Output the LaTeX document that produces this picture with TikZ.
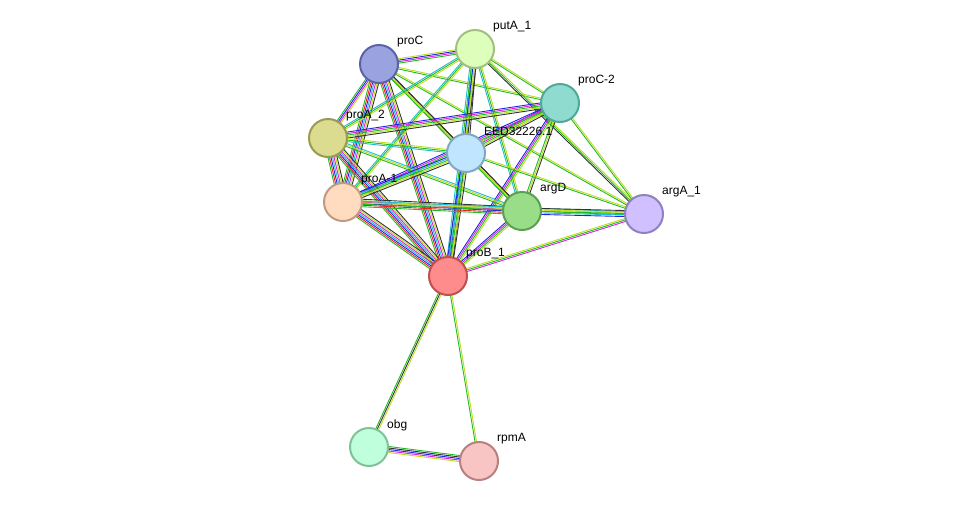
\documentclass[tikz,border=0pt]{standalone}
\usepackage{fontspec}
\setmainfont{Liberation Sans}
\usetikzlibrary{calc}
\definecolor{cG}{HTML}{22BB22}
\definecolor{cR}{HTML}{EE2222}
\definecolor{cB}{HTML}{2222EE}
\definecolor{cC}{HTML}{22BBCC}
\definecolor{cM}{HTML}{DD22DD}
\definecolor{cY}{HTML}{BBDD22}
\definecolor{cK}{HTML}{333333}
\newcommand\edg[3]{%
  \foreach \c [count=\i] in {#3} {\xdef\nn{\i}}%
  \foreach \c [count=\i] in {#3} {%
    \pgfmathsetmacro\off{(\i-(\nn+1)/2)*1.5}%
    \draw[\c, line width=0.9pt] ($(#1)!\off pt!90:(#2)$) -- ($(#2)!\off pt!-90:(#1)$);
  }%
}
\tikzset{prot/.style={circle, minimum size=38pt, inner sep=0pt, line width=2pt},
  lbl/.style={anchor=west, font=\fontsize{12}{12}\selectfont, inner sep=0pt}}
\begin{document}
\begin{tikzpicture}[x=1pt,y=-1pt]
\useasboundingbox (0,0) rectangle (976,507);
\fill[white] (0,0) rectangle (976,507);
\coordinate (proC) at (379,64);
\coordinate (putA) at (475,49);
\coordinate (proC2) at (560,103);
\coordinate (proA2) at (328,138);
\coordinate (EED) at (466,153);
\coordinate (proA1) at (343,202);
\coordinate (argD) at (522,211);
\coordinate (argA) at (644,214);
\coordinate (proB) at (448,276);
\coordinate (obg) at (369,447);
\coordinate (rpmA) at (479,461);
\def\full{cG,cR,cB,cC,cM,cY,cK}
\edg{proC}{putA}{cG,cM,cB,cY}
\edg{proC}{proC2}{cG,cY}
\edg{proC}{proA2}{cG,cB,cM,cY}
\edg{proC}{EED}{cG,cY,cK}
\edg{proC}{proA1}{cG,cR,cB,cC,cM,cY,cK}
\edg{proC}{argD}{cG,cY,cK}
\edg{proC}{proB}{cG,cR,cB,cC,cM,cY,cK}
\edg{proC}{argA}{cG,cY}
\edg{putA}{proC2}{cG,cY}
\edg{putA}{proA2}{cC,cG,cY}
\edg{putA}{EED}{cC,cG,cY,cK}
\edg{putA}{proA1}{cC,cG,cY}
\edg{putA}{argD}{cC,cG,cY}
\edg{putA}{proB}{cC,cG,cB,cY,cK}
\edg{putA}{argA}{cK,cG,cY}
\edg{proC2}{proA2}{cB,cM,cG,cY,cK}
\edg{proC2}{EED}{cB,cM,cG,cY,cK}
\edg{proC2}{proA1}{cB,cM,cG,cY}
\edg{proC2}{argD}{cG,cY,cK}
\edg{proC2}{proB}{cB,cM,cG,cY}
\edg{proC2}{argA}{cG,cY}
\edg{proA2}{EED}{cC,cG,cY}
\edg{proA2}{proA1}{cG,cR,cB,cC,cM,cY,cK}
\edg{proA2}{argD}{cG,cY,cC}
\edg{proA2}{proB}{cG,cR,cB,cC,cM,cY,cK}
\edg{EED}{proA1}{cB,cC,cG,cY,cK}
\edg{EED}{argD}{cG,cY,cK}
\edg{EED}{proB}{cB,cC,cG,cY,cK}
\edg{EED}{argA}{cG,cY}
\edg{proA1}{argD}{cG,cR,cB,cM,cY,cK}
\edg{proA1}{proB}{cG,cR,cB,cC,cM,cY,cK}
\edg{proA1}{argA}{cG,cY,cC}
\edg{argD}{argA}{cB,cC,cG,cY,cK}
\edg{argD}{proB}{cB,cM,cG,cY}
\edg{proB}{argA}{cM,cG,cY}
\edg{proB}{obg}{cG,cK,cY}
\edg{proB}{rpmA}{cG,cY}
\edg{obg}{rpmA}{cY,cM,cB,cK,cG}
\foreach \n/\f/\d/\t in {proC/9AA3E0/5A63A8/proC, putA/DDFFBB/A0C080/putA\_1,
  proC2/8FDBD0/4FA89A/proC-2, proA2/DCDC90/9A9A50/proA\_2, EED/C0E6FF/80A8C0/EED32226.1,
  proA1/FFDCC0/C09A80/proA-1, argD/99DD88/5AA050/argD, argA/D0C0FF/9080C0/argA\_1,
  proB/FF8C8C/C05050/proB\_1, obg/C0FFDC/80C09A/obg, rpmA/F8C4C4/B88080/rpmA} {
  \definecolor{fc}{HTML}{\f}\definecolor{dc}{HTML}{\d}
  \node[prot, fill=fc, draw=dc] (\n-n) at (\n) {};
  \node[lbl] (\n-l) at ($(\n)+(18,-22)$) {\t};
}
\end{tikzpicture}
\end{document}
